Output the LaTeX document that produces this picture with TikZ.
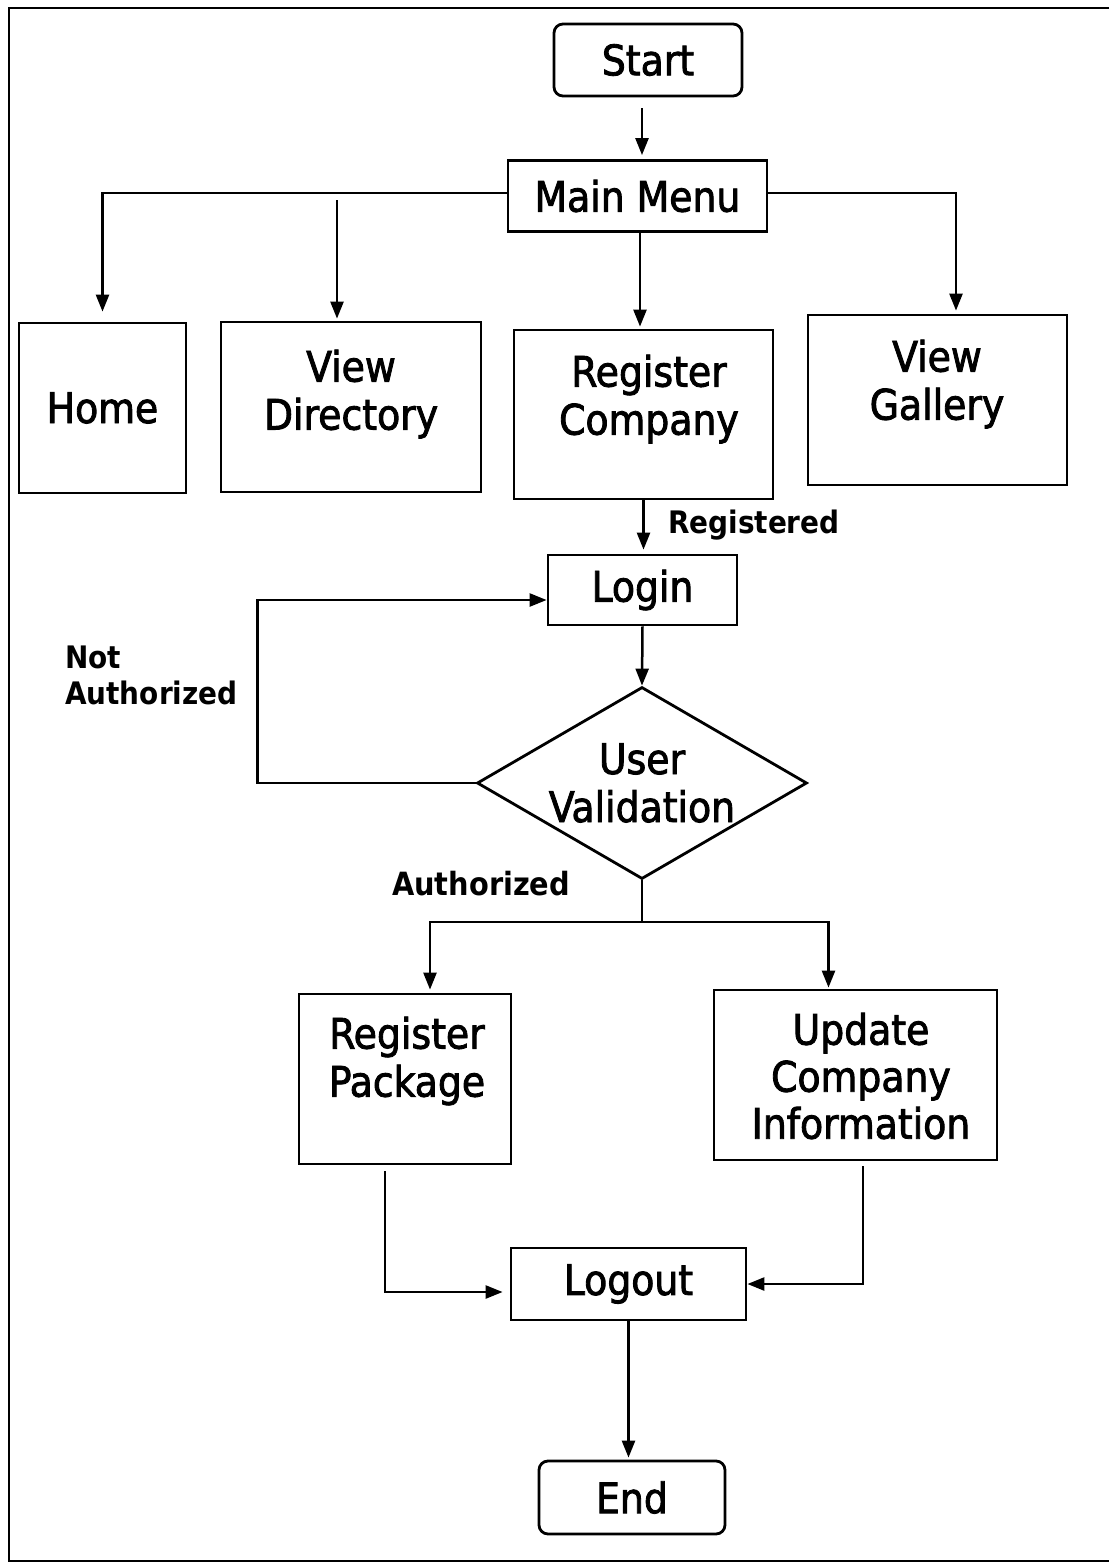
\documentclass[tikz,border=0pt]{standalone}
\usepackage{fontspec}
\setmainfont{DejaVu Sans Condensed}
\newfontfamily\boxfont{DejaVu Sans Condensed}[FakeBold=2]
\usetikzlibrary{arrows.meta,shapes.geometric}
\begin{document}
\begin{tikzpicture}[x=1pt,y=-1pt,
  every node/.style={font=\boxfont\fontsize{42}{48}\selectfont, inner sep=0pt},
  box/.style={draw, line width=2.8pt, rectangle},
  term/.style={box, rounded corners=9pt},
  txt/.style={align=center},
  lbl/.style={font=\bfseries\fontsize{31}{36}\selectfont, align=left},
  conn/.style={line width=2.5pt},
  arr/.style={conn, -{Triangle[length=17pt,width=13pt]}}
]
\useasboundingbox (0,0) rectangle (1109,1564);

% outer frame
\draw[line width=2.4pt] (1109,8) -- (9,8) -- (9,1561) -- (1109,1561);

% terminals and process boxes
\node[term, minimum width=188pt, minimum height=72pt] (start) at (648,60) {Start};
\node[box, minimum width=259pt, minimum height=71pt] (menu) at (637.5,196) {Main Menu};

\node[box, minimum width=167pt, minimum height=170pt] (home) at (102.5,408) {Home};
\node[box, minimum width=260pt, minimum height=170pt] (dir) at (351,407) {};
\node[txt] (dir-t) at (351,394) {View\\Directory};
\node[box, minimum width=259pt, minimum height=169pt] (regco) at (643.5,414.5) {};
\node[txt] (regco-t) at (649,399) {Register\\Company};
\node[box, minimum width=259pt, minimum height=170pt] (gal) at (937.5,400) {};
\node[txt] (gal-t) at (937,384) {View\\Gallery};

\node[box, minimum width=189pt, minimum height=70pt] (login) at (642.5,590) {Login};
\node[diamond, draw, line width=2.8pt, minimum width=330pt, minimum height=192pt,
      aspect=1.72, align=center] (valid) at (642,783) {User\\Validation};

\node[box, minimum width=212pt, minimum height=170pt] (regpk) at (405,1079) {};
\node[txt] (regpk-t) at (407,1061) {Register\\Package};
\node[box, minimum width=283pt, minimum height=170pt] (upd) at (855.5,1075) {};
\node[txt, font=\boxfont\fontsize{42}{47}\selectfont] (upd-t) at (861,1076) {Update\\Company\\Information};

\node[box, minimum width=235pt, minimum height=72pt] (logout) at (628.5,1284) {Logout};
\node[term, minimum width=186pt, minimum height=73pt] (end) at (632,1497.5) {End};

% edge labels
\node[lbl, anchor=base west] (l-reg) at (668,533) {Registered};
\node[lbl, anchor=west] (l-notauth) at (65,675.5) {Not\\Authorized};
\node[lbl, anchor=base west, font=\bfseries\fontsize{32}{36}\selectfont] (l-auth) at (392,895) {Authorized};

% connectors
\draw[arr, shorten <=11pt, shorten >=4pt] ([xshift=-6pt]start.south) -- ([xshift=-6pt]start.south |- menu.north);
\draw[arr, shorten >=10pt] ([yshift=3pt]menu.west) -| (home.north);
\coordinate (dir-in) at (337,200);
\draw[arr, shorten >=2pt] (dir-in) -- (dir-in |- dir.north);
\draw[arr, shorten >=2pt] ([xshift=2.5pt]menu.south) -- ([xshift=2.5pt]menu.south |- regco.north);
\draw[arr, shorten >=3pt] ([yshift=3pt]menu.east) -| ([xshift=18.5pt]gal.north);

\draw[arr, shorten >=4pt] (regco.south) -- (regco.south |- login.north);
\draw[arr] (login.south) -- (valid.north);
\draw[arr] (valid.west) -- ++(-218,0) |- ([yshift=-10pt]login.west);

\coordinate (split) at (642,922);
\draw[conn] (valid.south) -- (split);
\draw[arr, shorten >=3pt] (split) -| ([xshift=25pt]regpk.north);
\draw[arr, shorten >=1pt] (split) -| ([xshift=-27pt]upd.north);

\draw[arr, shorten >=7pt] ([xshift=-20pt,yshift=-6pt]regpk.south) |- ([yshift=-8pt]logout.west);
\draw[arr] ([xshift=7.5pt,yshift=-5pt]upd.south) |- (logout.east);
\draw[arr, shorten >=2pt] (logout.south) -- (logout.south |- end.north);
\end{tikzpicture}
\end{document}
